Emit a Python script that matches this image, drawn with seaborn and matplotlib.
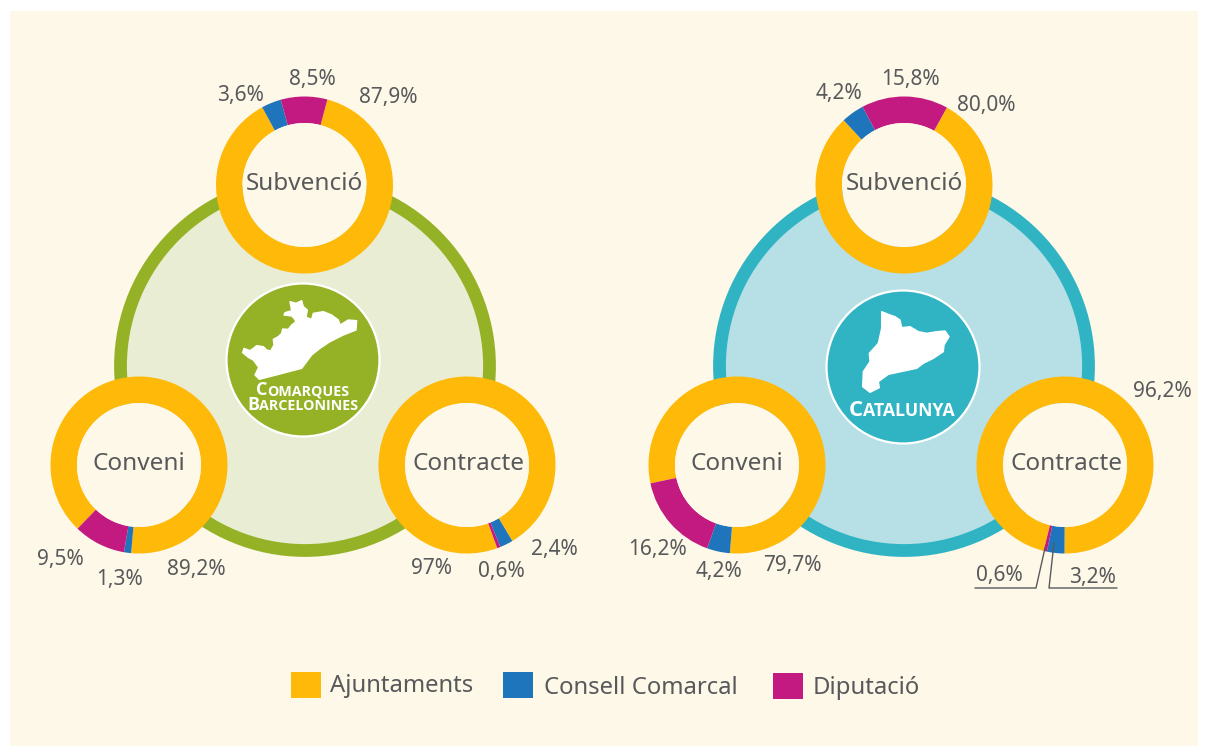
import matplotlib
matplotlib.use("Agg")
import matplotlib.pyplot as plt
import seaborn as sns
from matplotlib.patches import Circle, Rectangle, Polygon

W, H = 1208, 747
sns.set_theme(style="white")
plt.rcParams['font.family'] = ['Noto Sans', 'DejaVu Sans']

# ---------- data ----------
series = ["Ajuntaments", "Consell Comarcal", "Diputació"]
regions = ["Comarques Barcelonines", "Catalunya"]
types = ["Subvenció", "Conveni", "Contracte"]
barcelona_subvencio = [87.9, 3.6, 8.5]
barcelona_conveni = [89.2, 1.3, 9.5]
barcelona_contracte = [97.0, 2.4, 0.6]
catalunya_subvencio = [80.0, 4.2, 15.8]
catalunya_conveni = [79.7, 4.2, 16.2]
catalunya_contracte = [96.2, 3.2, 0.6]
barcelona_labels = [["87,9%", "3,6%", "8,5%"], ["89,2%", "1,3%", "9,5%"], ["97%", "2,4%", "0,6%"]]
catalunya_labels = [["80,0%", "4,2%", "15,8%"], ["79,7%", "4,2%", "16,2%"], ["96,2%", "3,2%", "0,6%"]]

# ---------- style ----------
palette = sns.color_palette(["#FFB908", "#1F75BC", "#C21A81"])
TXT = "#58595B"
CREAM = "#FEF8E8"


def Y(py):
    return H - py


fig = plt.figure(figsize=(W / 100, H / 100), dpi=100, facecolor="white")
ax = fig.add_axes([0, 0, 1, 1])
ax.add_patch(Rectangle((10, Y(746)), 1188, 735, fc=CREAM, ec="none", zorder=0))


def donut(cx, cy, vals, start, title):
    ax.pie(vals, colors=palette, startangle=start, counterclock=False, center=(cx, Y(cy)),
           radius=88.5, wedgeprops=dict(width=26.5, linewidth=0), frame=True, normalize=True)
    for w in ax.patches[-3:]:
        w.set_zorder(4)
    ax.add_patch(Circle((cx, Y(cy)), 62, fc=CREAM, ec="none", zorder=5))
    shift = 2 if title == "Contracte" else 0
    ax.text(cx + shift, Y(cy - 0.5), title, ha="center", va="center", fontsize=17.5, color=TXT, zorder=6)


def panel(cx, ring, fill, disc_x, disc_y, centers, starts, rows, places, label_pos):
    ax.add_patch(Circle((cx, Y(366)), 184.5, fc=fill, ec=ring, lw=9.2, zorder=1))
    ax.add_patch(Circle((disc_x, Y(disc_y)), 76.5, fc=ring, ec="white", lw=1.6, zorder=2))
    for (dx, dy), start, vals, title in zip(centers, starts, rows, types):
        donut(dx, dy, vals, start, title)
    for texts, positions in zip(places, label_pos):
        for t, (px, py) in zip(texts, positions):
            ax.text(px, Y(py + 2), t, ha="center", va="center", fontsize=15, color=TXT, zorder=7)


panel(305, "#95B227", "#E9EDD4", 303, 360,
      [(304.5, 185), (139, 465), (467, 465)], [75, -134, -70],
      [barcelona_subvencio, barcelona_conveni, barcelona_contracte], barcelona_labels,
      [[(388, 95), (240, 93), (312, 78)], [(196, 567), (120, 578), (60, 557)],
       [(432, 566), (554, 547), (501, 570)]])
panel(904, "#30B4C3", "#B6DFE6", 903, 367,
      [(904, 185), (737, 465), (1065, 465)], [61, -168, -104],
      [catalunya_subvencio, catalunya_conveni, catalunya_contracte], catalunya_labels,
      [[(986, 103), (839, 92), (910, 78)], [(792, 563), (719, 570), (658, 547)],
       [(1162, 390), (1093, 575), (999, 574)]])

# leader lines
ax.plot([975, 1036, 1045], [Y(588), Y(588), Y(548)], color=TXT, lw=1, zorder=7)
ax.plot([1117, 1049, 1054], [Y(588), Y(588), Y(543)], color=TXT, lw=1, zorder=7)

map_bcn = [(210, 65), (228, 70), (245, 62), (250, 80), (262, 90), (258, 112), (275, 118), (280, 100),
           (310, 95), (335, 105), (355, 120), (360, 135), (385, 120), (410, 122), (408, 150), (370, 165),
           (330, 185), (300, 205), (275, 225), (245, 265), (180, 282), (118, 298), (105, 285), (116, 262),
           (100, 240), (85, 232), (68, 218), (72, 205), (90, 212), (100, 205), (110, 197), (130, 200),
           (140, 210), (152, 213), (162, 195), (160, 178), (175, 170), (185, 160), (188, 147), (205, 148),
           (215, 135), (228, 125), (222, 115), (215, 108), (192, 105), (195, 98), (215, 92)]
map_cat = [(185, 80), (205, 88), (225, 95), (240, 105), (245, 128), (270, 125), (295, 140), (320, 145),
           (350, 140), (375, 138), (387, 155), (372, 180), (370, 200), (340, 220), (310, 235), (290, 250),
           (205, 268), (175, 290), (178, 308), (150, 322), (128, 305), (130, 260), (150, 230), (148, 205),
           (175, 175), (185, 130)]
for outline, ox, oy in [(map_bcn, 220, 280), (map_cat, 820, 285)]:
    ax.add_patch(Polygon([(ox + x / 3, Y(oy + y / 3)) for x, y in outline], fc="white", ec="white",
                         lw=1, joinstyle="round", zorder=3))

# small-caps captions
renderer = fig.canvas.get_renderer()


def small_caps(word, cx, py, big, small):
    parts = [(word[0], big), (word[1:].upper(), small)]
    artists = [ax.text(0, Y(py), s, fontsize=fs, fontweight="bold", color="white", family="Open Sans",
                       ha="left", va="baseline", zorder=6) for s, fs in parts]
    widths = [a.get_window_extent(renderer).width for a in artists]
    x = cx - sum(widths) / 2
    for a, w in zip(artists, widths):
        a.set_x(x)
        x += w - 0.5


small_caps("Comarques", 303, 395, 13, 10.3)
small_caps("Barcelonines", 303, 410, 13, 10.3)
small_caps("Catalunya", 902, 416, 16, 12.7)

# legend
for name, c, x0, y0, tx, ty in zip(series, palette, [291, 503, 773], [672, 672, 673],
                                   [330, 544, 813], [686, 688, 688]):
    ax.add_patch(Rectangle((x0, Y(y0 + 26)), 30, 26, fc=c, ec="none", zorder=3))
    ax.text(tx, Y(ty), name, ha="left", va="center", fontsize=17.2, color=TXT, zorder=3)

ax.set_xlim(0, W)
ax.set_ylim(0, H)
ax.set_aspect("equal")
ax.axis("off")
fig.savefig("out.png", dpi=100, facecolor="white")
